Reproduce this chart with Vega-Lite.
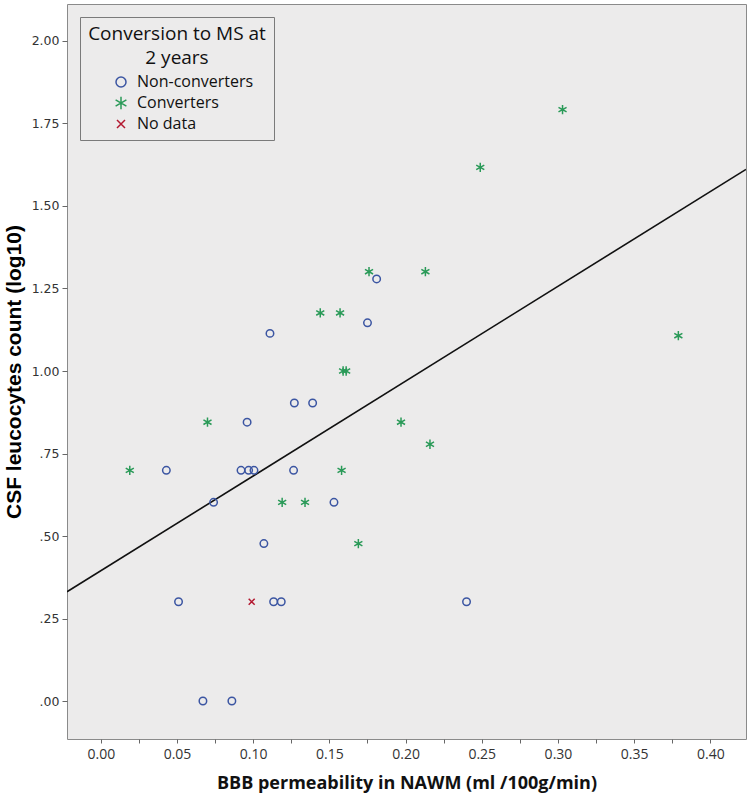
{
  "$schema": "https://vega.github.io/schema/vega-lite/v6.json",
  "width": 679,
  "height": 735,
  "autosize": {"type": "none"},
  "padding": {"left": 67, "top": 4, "right": 3, "bottom": 58},
  "background": "white",
  "config": {
    "view": {"fill": "#ecebeb", "stroke": "#8a8a8a", "strokeWidth": 1},
    "legend": {
      "orient": "none",
      "legendX": 13,
      "legendY": 13,
      "strokeColor": "#7a7a7a",
      "fillColor": "#ecebeb",
      "padding": 8,
      "titleFont": "Open Sans",
      "titleFontSize": 19,
      "titleFontWeight": "normal",
      "titleColor": "#111111",
      "titleAlign": "center",
      "titleAnchor": "middle",
      "titleLineHeight": 24,
      "titleLimit": 400,
      "titlePadding": 6,
      "labelFont": "Open Sans",
      "labelFontSize": 16,
      "labelColor": "#111111",
      "labelOffset": 8,
      "symbolOffset": 12,
      "rowPadding": 3,
      "symbolStrokeWidth": 1.5
    }
  },
  "datasets": {
    "points": [
      {"group": "Non-converters", "x": 0.043, "y": 0.699},
      {"group": "Non-converters", "x": 0.051, "y": 0.301},
      {"group": "Non-converters", "x": 0.067, "y": 0.0},
      {"group": "Non-converters", "x": 0.086, "y": 0.0},
      {"group": "Non-converters", "x": 0.074, "y": 0.602},
      {"group": "Non-converters", "x": 0.092, "y": 0.699},
      {"group": "Non-converters", "x": 0.097, "y": 0.699},
      {"group": "Non-converters", "x": 0.1005, "y": 0.699},
      {"group": "Non-converters", "x": 0.096, "y": 0.845},
      {"group": "Non-converters", "x": 0.107, "y": 0.477},
      {"group": "Non-converters", "x": 0.111, "y": 1.114},
      {"group": "Non-converters", "x": 0.1134, "y": 0.301},
      {"group": "Non-converters", "x": 0.1184, "y": 0.301},
      {"group": "Non-converters", "x": 0.127, "y": 0.903},
      {"group": "Non-converters", "x": 0.139, "y": 0.903},
      {"group": "Non-converters", "x": 0.1265, "y": 0.699},
      {"group": "Non-converters", "x": 0.153, "y": 0.602},
      {"group": "Non-converters", "x": 0.175, "y": 1.146},
      {"group": "Non-converters", "x": 0.181, "y": 1.279},
      {"group": "Non-converters", "x": 0.240, "y": 0.301},
      {"group": "Converters", "x": 0.019, "y": 0.699},
      {"group": "Converters", "x": 0.070, "y": 0.845},
      {"group": "Converters", "x": 0.119, "y": 0.602},
      {"group": "Converters", "x": 0.134, "y": 0.602},
      {"group": "Converters", "x": 0.144, "y": 1.176},
      {"group": "Converters", "x": 0.157, "y": 1.176},
      {"group": "Converters", "x": 0.159, "y": 1.0},
      {"group": "Converters", "x": 0.161, "y": 1.0},
      {"group": "Converters", "x": 0.158, "y": 0.699},
      {"group": "Converters", "x": 0.169, "y": 0.477},
      {"group": "Converters", "x": 0.176, "y": 1.301},
      {"group": "Converters", "x": 0.197, "y": 0.845},
      {"group": "Converters", "x": 0.213, "y": 1.301},
      {"group": "Converters", "x": 0.216, "y": 0.778},
      {"group": "Converters", "x": 0.249, "y": 1.617},
      {"group": "Converters", "x": 0.303, "y": 1.792},
      {"group": "Converters", "x": 0.379, "y": 1.107},
      {"group": "No data", "x": 0.099, "y": 0.301}
    ],
    "fit": [
      {"x": -0.0222, "y": 0.331},
      {"x": 0.4234, "y": 1.611}
    ]
  },
  "encoding": {
    "x": {
      "field": "x",
      "type": "quantitative",
      "scale": {"domain": [-0.0222, 0.4234], "nice": false, "zero": false},
      "axis": {
        "title": "BBB permeability in NAWM (ml /100g/min)",
        "values": [0, 0.025, 0.05, 0.075, 0.1, 0.125, 0.15, 0.175, 0.2, 0.225, 0.25, 0.275, 0.3, 0.325, 0.35, 0.375, 0.4],
        "labelExpr": "round(datum.value*1000) % 50 == 0 ? format(datum.value, '.2f') : ''",
        "grid": false,
        "domain": false,
        "tickSize": 4,
        "tickColor": "#666666",
        "labelFont": "Open Sans",
        "labelFontSize": 14,
        "labelColor": "#333333",
        "labelPadding": 4,
        "titleFont": "Open Sans",
        "titleFontSize": 18,
        "titleFontWeight": "bold",
        "titleColor": "#111111",
        "titlePadding": 13
      }
    },
    "y": {
      "field": "y",
      "type": "quantitative",
      "scale": {"domain": [-0.115, 2.112], "nice": false, "zero": false},
      "axis": {
        "title": "CSF leucocytes count (log10)",
        "values": [0, 0.25, 0.5, 0.75, 1, 1.25, 1.5, 1.75, 2],
        "labelExpr": "datum.value < 1 ? slice(format(datum.value, '.2f'), 1) : format(datum.value, '.2f')",
        "grid": false,
        "domain": false,
        "tickSize": 5,
        "tickColor": "#666666",
        "labelFont": "DejaVu Sans",
        "labelFontSize": 12.5,
        "labelColor": "#333333",
        "labelPadding": 3,
        "titleFont": "Liberation Sans",
        "titleFontSize": 21,
        "titleFontWeight": "bold",
        "titleColor": "#000000",
        "titlePadding": 7
      }
    }
  },
  "layer": [
    {
      "data": {"name": "fit"},
      "mark": {"type": "line", "color": "#111111", "strokeWidth": 1.6, "clip": true},
      "encoding": {}
    },
    {
      "data": {"name": "points"},
      "mark": {"type": "point", "filled": false, "strokeWidth": 1.5, "opacity": 1, "size": 56},
      "encoding": {
        "shape": {
          "field": "group",
          "type": "nominal",
          "scale": {
            "domain": ["Non-converters", "Converters", "No data"],
            "range": ["circle", "M0,-1.25L0,1.25M-1.08,-0.62L1.08,0.62M-1.08,0.62L1.08,-0.62", "M-0.8,-0.8L0.8,0.8M-0.8,0.8L0.8,-0.8"]
          },
          "legend": {"title": ["Conversion to MS at", "2 years"]}
        },
        "color": {
          "field": "group",
          "type": "nominal",
          "scale": {
            "domain": ["Non-converters", "Converters", "No data"],
            "range": ["#3b55a2", "#2a9a58", "#b3172f"]
          },
          "legend": {"title": ["Conversion to MS at", "2 years"]}
        }
      }
    }
  ]
}
